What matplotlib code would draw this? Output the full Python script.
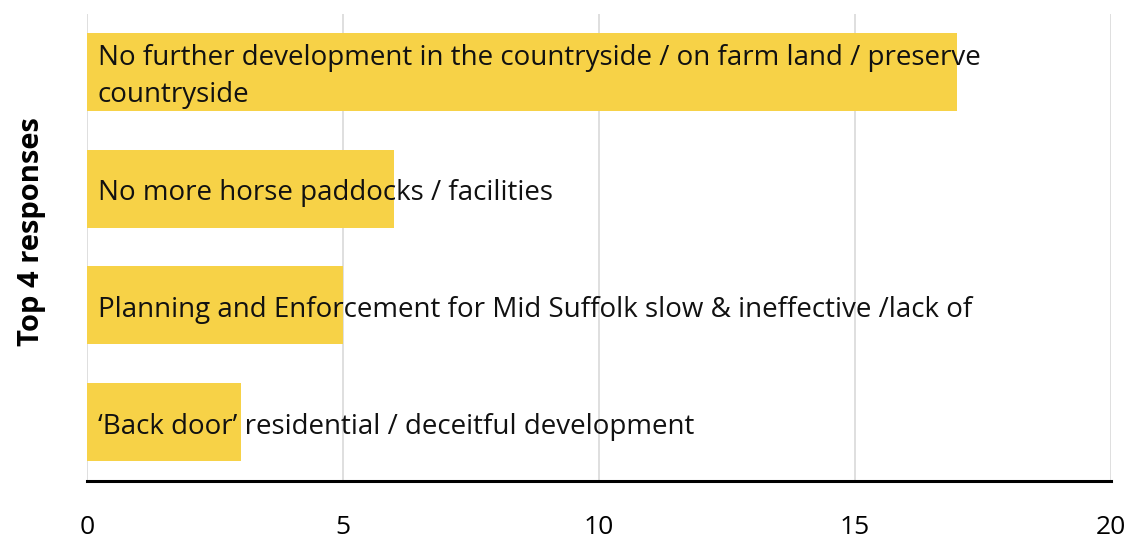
import matplotlib.pyplot as plt

plt.rcParams['font.family'] = ['Open Sans', 'DejaVu Sans']

# Data
responses = [
    "No further development in the countryside / on farm land / preserve\ncountryside",
    "No more horse paddocks / facilities",
    "Planning and Enforcement for Mid Suffolk slow & ineffective /lack of",
    "\u2018Back door\u2019 residential / deceitful development",
]
counts = [17, 6, 5, 3]
x_ticks = [0, 5, 10, 15, 20]

fig = plt.figure(figsize=(11.41, 5.41), dpi=100, facecolor='white')
ax = fig.add_axes([87 / 1141, 1 - 480.5 / 541, 1024 / 1141, (480.5 - 13.5) / 541])

y = list(range(len(responses)))[::-1]
ax.barh(y, counts, height=0.667, color='#F7D247', zorder=2)

# labels sit inside the bars, starting just right of zero (a touch below centre)
for yi, label in zip(y, responses):
    ax.text(0.21, yi - 0.04, label, va='center', ha='left', fontsize=20,
            color='#111111', linespacing=1.45, zorder=3)

ax.set_xlim(0, 20)
ax.set_ylim(-0.5, len(responses) - 0.5)
ax.set_xticks(x_ticks)
ax.set_xticklabels([str(t) for t in x_ticks], fontsize=19)
ax.set_yticks([])
ax.grid(axis='x', color='#D9D9D9', linewidth=1.2, zorder=0)
ax.tick_params(axis='x', length=0, pad=25)

for side in ['top', 'right', 'left']:
    ax.spines[side].set_visible(False)
ax.spines['bottom'].set_linewidth(2.2)
ax.spines['bottom'].set_color('black')
ax.spines['bottom'].set_zorder(4)

ax.set_ylabel('Top 4 responses', fontsize=21, fontweight='bold')
ax.yaxis.set_label_coords(-0.04, 0.532)

fig.savefig('out.png', dpi=100)
